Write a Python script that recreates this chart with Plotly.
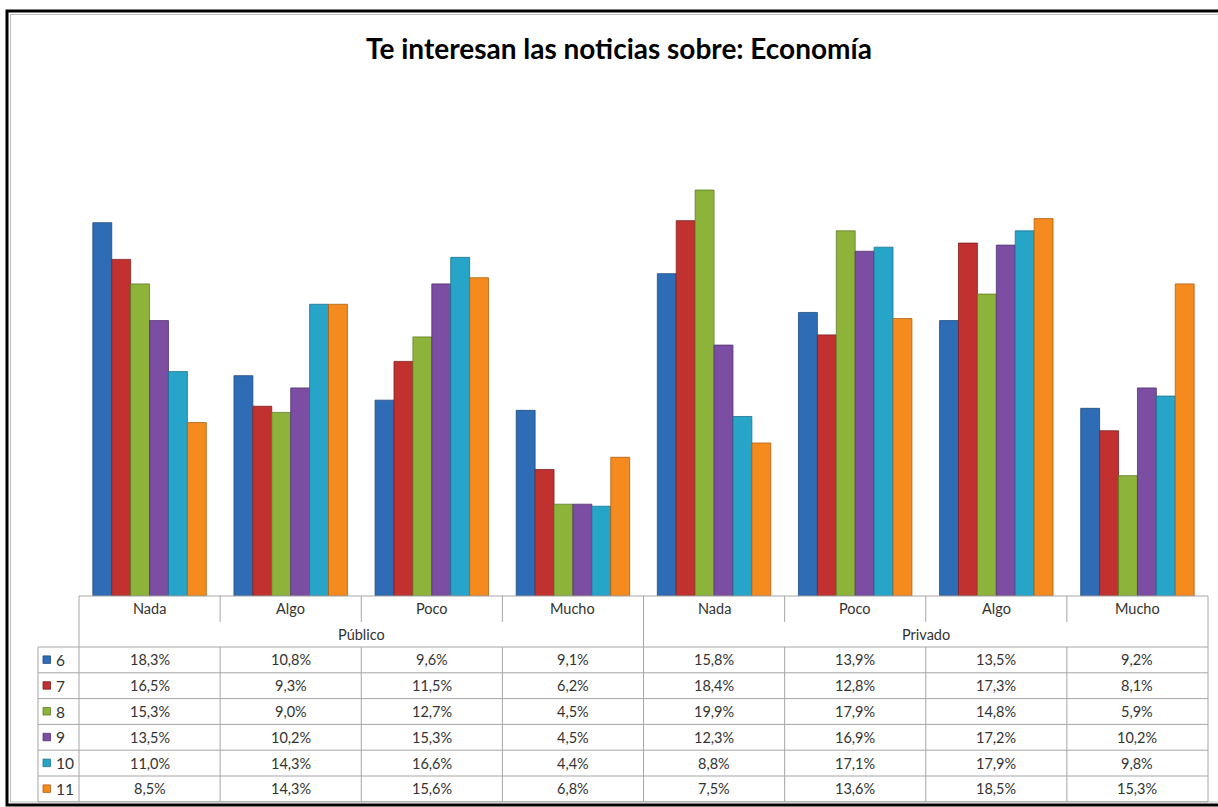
import plotly.graph_objects as go

# data
categories = ["Nada", "Algo", "Poco", "Mucho", "Nada", "Poco", "Algo", "Mucho"]
groups = ["Público", "Privado"]
series_names = ["6", "7", "8", "9", "10", "11"]
s6 = [18.3, 10.8, 9.6, 9.1, 15.8, 13.9, 13.5, 9.2]
s7 = [16.5, 9.3, 11.5, 6.2, 18.4, 12.8, 17.3, 8.1]
s8 = [15.3, 9.0, 12.7, 4.5, 19.9, 17.9, 14.8, 5.9]
s9 = [13.5, 10.2, 15.3, 4.5, 12.3, 16.9, 17.2, 10.2]
s10 = [11.0, 14.3, 16.6, 4.4, 8.8, 17.1, 17.9, 9.8]
s11 = [8.5, 14.3, 15.6, 6.8, 7.5, 13.6, 18.5, 15.3]
series_values = [s6, s7, s8, s9, s10, s11]

colors = ["#2E6DB6", "#C0312F", "#8DB33B", "#7B4DA3", "#27A5C8", "#F58A1E"]
edges = ["#1D4A80", "#842020", "#5F7D25", "#533370", "#1A7190", "#B0600F"]

W, H = 1218, 807


def px(x):
    return x / W


def py(y):
    return 1 - y / H


fig = go.Figure()
xs = list(range(len(categories)))
for name, vals, c, e in zip(series_names, series_values, colors, edges):
    fig.add_trace(
        go.Bar(
            x=xs,
            y=vals,
            name=name,
            marker={"color": c, "line": {"color": e, "width": 0.8}},
            showlegend=False,
        )
    )

table_left, table_right = 79, 1208
label_left = 38
top = 596
head_mid = 622
head_bottom = 647
row_h = 25.8
n_rows = len(series_names)
bottom = head_bottom + row_h * n_rows

line = {"color": "#A6A6A6", "width": 1}
shapes = []
# outer frame (right side runs off the page, like the reference)
shapes.append(dict(type="rect", xref="paper", yref="paper", x0=px(7), x1=px(1230),
                   y0=py(805), y1=py(11), line={"color": "black", "width": 3}))
shapes.append(dict(type="rect", xref="paper", yref="paper", x0=px(10.5), x1=px(1226),
                   y0=py(802), y1=py(14.5), line={"color": "#BFBFBF", "width": 1}))
# table outline
shapes.append(dict(type="line", xref="paper", yref="paper", x0=px(table_left), x1=px(table_right),
                   y0=py(top), y1=py(top), line=line))
shapes.append(dict(type="line", xref="paper", yref="paper", x0=px(table_left), x1=px(table_left),
                   y0=py(top), y1=py(bottom), line=line))
shapes.append(dict(type="line", xref="paper", yref="paper", x0=px(table_right), x1=px(table_right),
                   y0=py(top), y1=py(bottom), line=line))
shapes.append(dict(type="line", xref="paper", yref="paper", x0=px(label_left), x1=px(label_left),
                   y0=py(head_bottom), y1=py(bottom), line=line))
for r in range(n_rows + 1):
    yy = head_bottom + r * row_h
    shapes.append(dict(type="line", xref="paper", yref="paper", x0=px(label_left), x1=px(table_right),
                       y0=py(yy), y1=py(yy), line=line))
# column dividers (in axis units); the group split runs through the whole header
for k in range(1, len(categories)):
    xk = k - 0.5
    shapes.append(dict(type="line", xref="x", yref="paper", x0=xk, x1=xk,
                       y0=py(top), y1=py(head_bottom if k == 4 else head_mid), line=line))
    shapes.append(dict(type="line", xref="x", yref="paper", x0=xk, x1=xk,
                       y0=py(head_bottom), y1=py(bottom), line=line))

font_tbl = {"family": "Lato, 'Open Sans', sans-serif", "size": 14.5, "color": "#333333"}
annotations = []
for i, cat in enumerate(categories):
    annotations.append(dict(x=i, y=py(608), xref="x", yref="paper", text=cat,
                            xanchor="center", yanchor="middle",
                            showarrow=False, font=font_tbl))
for g, name in enumerate(groups):
    annotations.append(dict(x=g * 4 + 1.5, y=py(634), xref="x", yref="paper", text=name,
                            xanchor="center", yanchor="middle",
                            showarrow=False, font=font_tbl))
for r, (name, vals, c, e) in enumerate(zip(series_names, series_values, colors, edges)):
    yc = head_bottom + (r + 0.5) * row_h
    for i, v in enumerate(vals):
        label = f"{v:.1f}".replace(".", ",") + "%"
        annotations.append(dict(x=i, y=py(yc), xref="x", yref="paper", text=label,
                                xanchor="center", yanchor="middle",
                                showarrow=False, font=font_tbl))
    shapes.append(dict(type="rect", xref="paper", yref="paper", x0=px(43), x1=px(50.5),
                       y0=py(yc + 3.5), y1=py(yc - 4), fillcolor=c, line={"color": e, "width": 0.8}))
    annotations.append(dict(x=px(54), y=py(yc), xref="paper", yref="paper", text=name,
                            showarrow=False, xanchor="left", yanchor="middle",
                            font={**font_tbl, "size": 15.5}))

annotations.append(dict(x=px(619), y=py(48), xref="paper", yref="paper",
                        text="<b>Te interesan las noticias sobre: Economía</b>",
                        showarrow=False, xanchor="center", yanchor="middle",
                        font={"family": "Lato, 'Open Sans', sans-serif", "size": 28, "color": "black"}))

y_scale_top = 595 - 20 * 20.35
fig.update_layout(
    width=W,
    height=H,
    margin={"l": 0, "r": 0, "t": 0, "b": 0},
    paper_bgcolor="white",
    plot_bgcolor="white",
    barmode="group",
    bargap=0.196,
    bargroupgap=0,
    shapes=shapes,
    annotations=annotations,
    xaxis={"domain": [px(table_left), px(table_right)], "range": [-0.5, 7.5],
           "showticklabels": False, "showgrid": False, "zeroline": False, "showline": False,
           "fixedrange": True},
    yaxis={"domain": [py(top), py(y_scale_top)], "range": [0, 20],
           "showticklabels": False, "showgrid": False, "zeroline": False, "showline": False,
           "fixedrange": True},
)

fig.write_html(
    "out.html",
    config={"displayModeBar": False},
    post_script="document.body.style.margin = '0';",
)
